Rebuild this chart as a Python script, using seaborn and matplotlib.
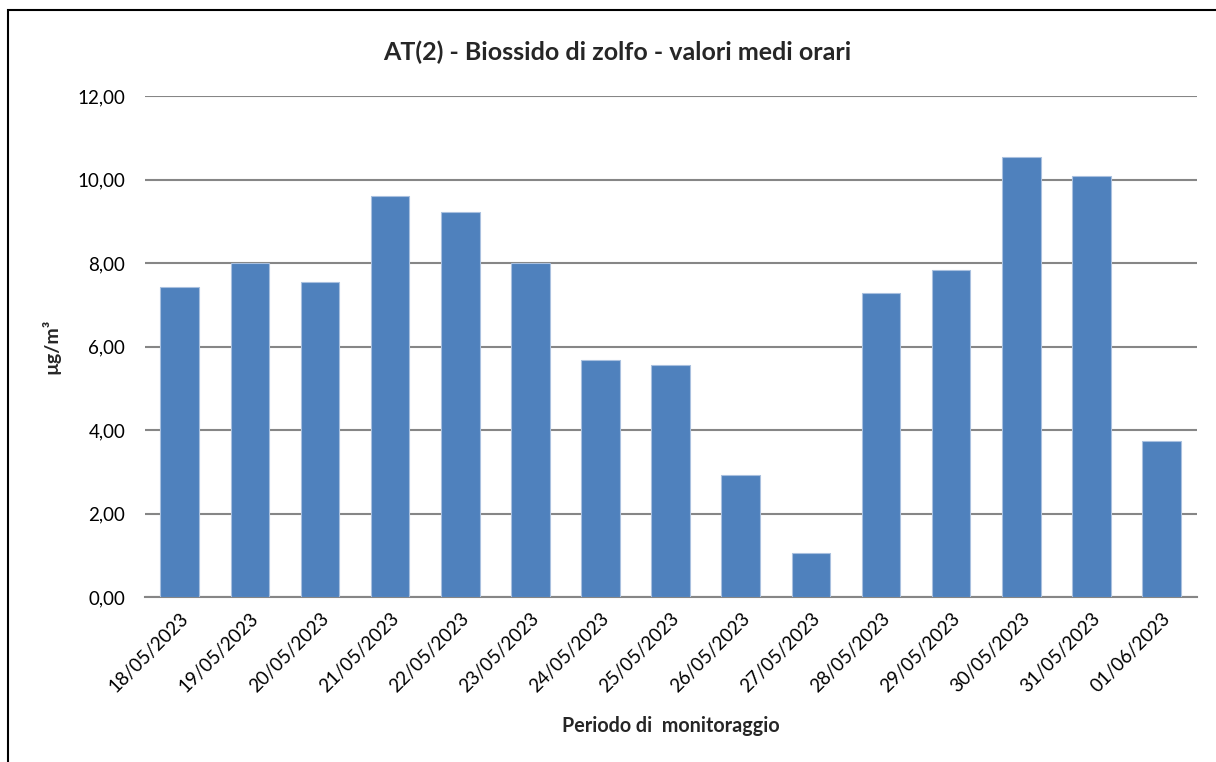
import matplotlib
matplotlib.use("Agg")
import matplotlib.pyplot as plt
import seaborn as sns
import pandas as pd
from matplotlib.ticker import FuncFormatter, MultipleLocator
from matplotlib.patches import Rectangle

dates = ["18/05/2023", "19/05/2023", "20/05/2023", "21/05/2023", "22/05/2023",
         "23/05/2023", "24/05/2023", "25/05/2023", "26/05/2023", "27/05/2023",
         "28/05/2023", "29/05/2023", "30/05/2023", "31/05/2023", "01/06/2023"]
values = [7.43, 8.00, 7.55, 9.61, 9.21, 8.00, 5.67, 5.55, 2.93, 1.05,
          7.27, 7.83, 10.53, 10.08, 3.74]

title = "AT(2) - Biossido di zolfo - valori medi orari"
xlabel = "Periodo di  monitoraggio"
ylabel = "µg/m³"

sns.set_style("white")
plt.rcParams['font.family'] = ['Lato', 'DejaVu Sans']

fig = plt.figure(figsize=(12.16, 7.62), dpi=100)
ax = fig.add_axes([0.119, 0.2165, 0.865, 0.6575])

df = pd.DataFrame({"data": dates, "valore": values})
sns.barplot(data=df, x="data", y="valore", color="#4F81BD", saturation=1,
            width=0.55, edgecolor="#a9c0df", linewidth=0.8, ax=ax, zorder=3)

ax.set_ylim(0, 12)
ax.set_xlim(-0.5, len(dates) - 0.5)
ax.yaxis.set_major_locator(MultipleLocator(2))
ax.yaxis.set_major_formatter(FuncFormatter(lambda v, p: f"{v:.2f}".replace(".", ",")))
ax.grid(axis="y", color="#868686", linewidth=1.5, zorder=0)
ax.set_axisbelow(True)

for s in ["top", "right", "left"]:
    ax.spines[s].set_visible(False)
ax.spines["bottom"].set_color("#868686")
ax.spines["bottom"].set_linewidth(1.5)
ax.tick_params(axis="both", length=0, labelsize=13.5, colors="black")
ax.tick_params(axis="y", pad=14)
ax.tick_params(axis="x", pad=9)
plt.setp(ax.get_xticklabels(), rotation=45, ha="right", rotation_mode="anchor")

ax.set_xlabel(xlabel, fontsize=14.2, fontweight="bold", labelpad=15)
ax.set_ylabel(ylabel, fontsize=14, fontweight="bold", labelpad=12)
fig.suptitle(title, x=0.508, y=0.947, fontsize=18, fontweight="bold")

fig.patches.append(Rectangle((8 / 1216, -0.1), 1.2, (762 - 10) / 762 + 0.1,
                             transform=fig.transFigure, fill=False,
                             edgecolor="black", linewidth=1.5))

fig.savefig("out.png", dpi=100)
